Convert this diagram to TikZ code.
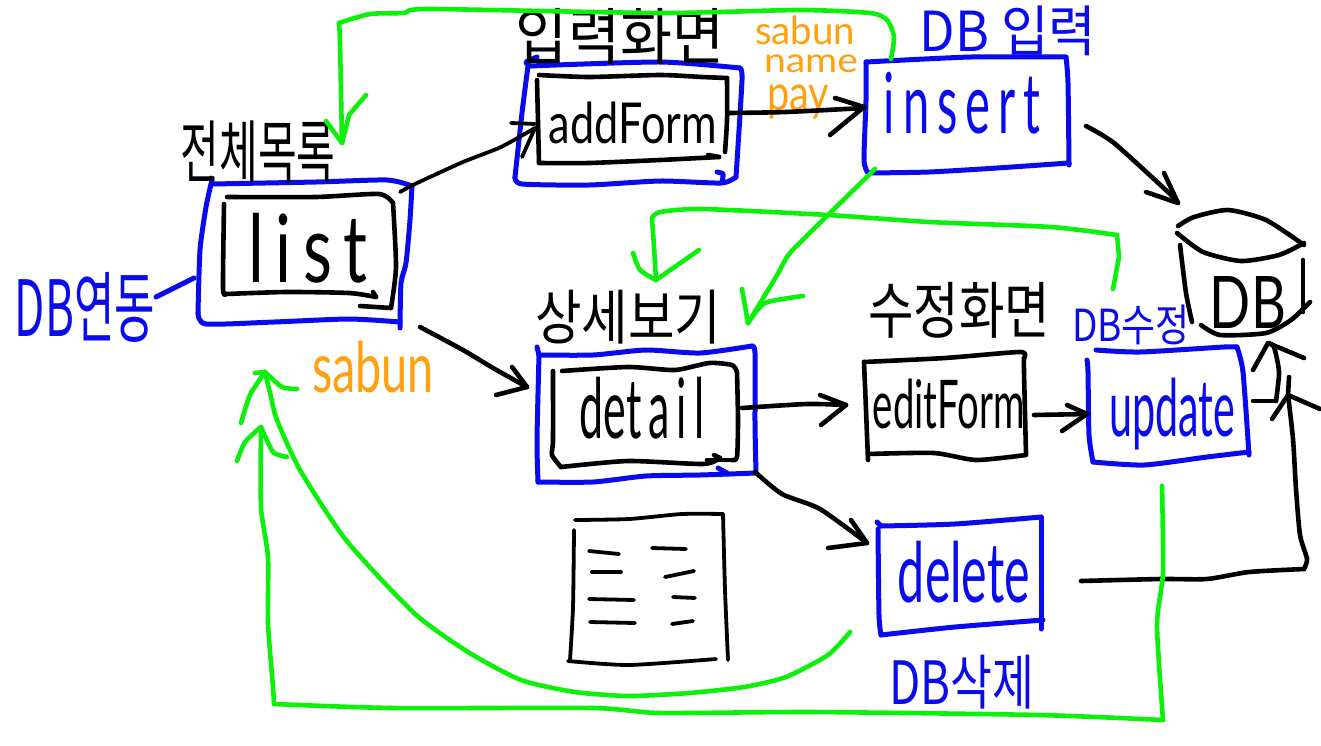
\documentclass[tikz,border=0pt]{standalone}
\usepackage{fontspec}
\usepackage{graphicx}
\setmainfont{Lato}
\newfontfamily\kr{Noto Sans CJK KR}
\definecolor{hblue}{HTML}{0A0AEE}
\definecolor{hgreen}{HTML}{0CF00C}
\definecolor{horange}{HTML}{FFA010}
\tikzset{
  pen/.style={line width=4.6pt,line cap=round,line join=round},
  inkK/.style={pen,draw=black},
  inkB/.style={pen,draw=hblue,line width=5pt},
  inkG/.style={pen,draw=hgreen},
  thinK/.style={pen,draw=black,line width=3.8pt},
  lab/.style={inner sep=0pt,outer sep=0pt},
}
\newcommand{\st}[2]{\draw[#1] plot[smooth,tension=.4] coordinates {#2};}
\newcommand{\ft}[3]{\resizebox*{#1pt}{#2pt}{#3}}
\begin{document}
\begin{tikzpicture}[x=1pt,y=-1pt]
\useasboundingbox[fill=white] (0,0) rectangle (1321,745);

% named connector ends
\coordinate (listNE) at (400,192);
\coordinate (addW) at (535,128);
\coordinate (addE) at (729,113);
\coordinate (insW) at (864,108);
\coordinate (insE) at (1086,126);
\coordinate (dbTop) at (1178,203);
\coordinate (listSE) at (420,327);
\coordinate (detW) at (527,387);
\coordinate (detE) at (742,408);
\coordinate (editW) at (846,405);
\coordinate (editE) at (1034,415);
\coordinate (updW) at (1087,414);
\coordinate (detS) at (755,472);
\coordinate (delW) at (867,543);
\coordinate (delE) at (1081,581);
\coordinate (dbIn) at (1288,395);
\coordinate (updE) at (1253,401);
\coordinate (dbBot) at (1268,343);
\coordinate (insTop) at (891,59);
\coordinate (listTop) at (342,143);
\coordinate (insSW) at (875,169);
\coordinate (detTop) at (748,323);
\coordinate (updTop) at (1113,289);
\coordinate (detTopL) at (656,280);
\coordinate (delS) at (850,632);
\coordinate (listS) at (265,372);
\coordinate (updS) at (1162,486);
\coordinate (listS2) at (261,427);
\coordinate (dbNote) at (194,278);

% ---- list box
\draw[inkB] (211,178) -- (212,184);
\st{inkB}{(212,184)(316,182)(387,180)(412,186)}
\st{inkB}{(412,186)(410,220)(406,263)(401,283)(400,328)}
\st{inkB}{(400,322)(349,319)(274,322)(206,324)(198,313)}
\st{inkB}{(198,313)(200,250)(206,207)(211,184)}
\st{inkK}{(227,197)(316,197)(379,194)(393,203)}
\st{inkK}{(393,203)(396,267)(391,308)}
\draw[inkK] (391,308) -- (360,306);
\st{inkK}{(224,204)(223,288)(226,294)}
\st{inkK}{(226,294)(286,292)(349,293)(376,297)}
\draw[inkK] (376,297) -- (373,292);
\node[lab] (list) at (308,248) {\ft{118}{70}{l\,i\,s\,t}};
\node[lab] (listTitle) at (258,152) {\ft{155}{62}{\kr 전체목록}};
\node[lab,text=hblue] (listNote) at (85,307) {\ft{140}{70}{\kr DB연동}};
\st{inkB}{(dbNote)(156,297)}

% ---- addForm box
\st{inkB}{(537,57)(526,62)(530,66)}
\st{inkB}{(530,66)(660,62)(740,68)}
\st{inkB}{(740,68)(742,80)(736,177)}
\st{inkB}{(736,177)(721,183)(660,181)(589,185)(522,184)(515,177)}
\st{inkB}{(515,177)(522,113)(528,66)}
\st{inkB}{(717,172)(723,174)(722,182)}
\st{inkK}{(539,75)(589,77)(660,75)(702,77)(727,78)}
\st{inkK}{(727,78)(727,120)(725,152)}
\st{inkK}{(537,80)(539,163)}
\st{inkK}{(539,163)(589,163)(660,160)(719,157)}
\draw[inkK] (719,157) -- (708,155);
\node[lab] (addForm) at (633,123) {\ft{168}{42}{addForm}};
\node[lab] (addTitle) at (620,36) {\ft{208}{56}{\kr 입력화면}};

% ---- insert box
\st{inkB}{(866,62)(971,57)(1066,57)}
\st{inkB}{(1066,57)(1068,83)(1069,165)}
\st{inkB}{(1069,163)(997,168)(929,172)(868,173)}
\st{inkB}{(868,173)(864,160)(866,100)(866,62)}
\node[lab,text=hblue] (insert) at (962,103) {\ft{156}{62}{i\,n\,s\,e\,r\,t}};
\node[lab,text=hblue] (insTitle) at (1008,31) {\ft{176}{50}{\kr DB 입력}};
\node[lab,text=horange] (p1) at (805,30) {\ft{100}{29}{sabun}};
\node[lab,text=horange] (p2) at (811,64) {\ft{94}{18}{name}};
\node[lab,text=horange] (p3) at (798,102) {\ft{62}{34}{pay}};

% ---- detail box
\draw[inkB] (537,347) -- (539,355);
\st{inkB}{(539,355)(593,355)(646,350)(700,353)(752,346)}
\st{inkB}{(752,346)(755,353)(755,423)(756,473)}
\st{inkB}{(756,473)(700,475)(646,476)(593,482)(538,482)}
\st{inkB}{(538,482)(537,440)(539,355)}
\draw[inkB] (718,468) -- (727,473);
\st{inkK}{(562,371)(628,367)(675,370)(709,363)(732,365)(737,372)}
\st{inkK}{(737,372)(738,420)(737,457)(732,460)}
\draw[inkK] (732,460) -- (707,460);
\st{inkK}{(553,371)(553,440)(552,455)(561,467)}
\st{inkK}{(561,467)(628,461)(703,464)(720,458)}
\draw[inkK] (720,458) -- (714,455);
\node[lab] (detail) at (642,408) {\ft{125}{62}{det\,a\,i\,l}};
\node[lab] (detTitle) at (628,317) {\ft{186}{54}{\kr 상세보기}};

% ---- editForm box
\st{inkK}{(864,362)(945,358)(1020,352)(1024,358)}
\st{inkK}{(1024,358)(1024,372)(1026,454)}
\st{inkK}{(864,362)(866,410)(868,460)}
\st{inkK}{(868,454)(934,453)(976,460)(1026,455)}
\node[lab] (editForm) at (949,404) {\ft{152}{50}{editForm}};
\node[lab] (editTitle) at (959,310) {\ft{182}{56}{\kr 수정화면}};

% ---- update box
\st{inkB}{(1096,350)(1140,352)(1224,347)(1237,347)}
\st{inkB}{(1237,347)(1243,372)(1249,455)}
\st{inkB}{(1249,452)(1207,457)(1144,465)(1093,462)}
\st{inkB}{(1093,462)(1089,435)(1088,372)(1087,360)}
\node[lab,text=hblue] (update) at (1172,414) {\ft{126}{72}{update}};
\node[lab,text=hblue] (updTitle) at (1131,325) {\ft{118}{40}{\kr DB수정}};

% ---- delete box
\draw[inkB] (877,522) -- (881,526);
\st{inkB}{(881,526)(955,524)(1041,517)}
\st{inkB}{(1041,517)(1041,572)(1041,629)}
\st{inkB}{(1043,620)(955,627)(881,635)}
\st{inkB}{(881,635)(879,615)(878,529)}
\node[lab,text=hblue] (delete) at (964,572) {\ft{132}{62}{delete}};
\node[lab,text=hblue] (delTitle) at (962,682) {\ft{145}{54}{\kr DB삭제}};

% ---- paper
\st{thinK}{(575,520)(629,519)(682,514)(723,514)}
\st{thinK}{(723,514)(725,590)(728,660)}
\st{thinK}{(574,530)(573,607)(570,660)}
\st{thinK}{(568,661)(629,665)(716,659)}
\foreach \a/\b/\c/\d in {589/551/619/554,592/572/621/572,589/599/634/600,590/622/635/623,652/548/686/549,665/577/694/571,673/597/695/598,672/624/693/621}
  \draw[thinK] (\a,\b) -- (\c,\d);

% ---- DB cylinder
\st{inkK}{(1178,226)(1194,217)(1228,210)(1266,220)(1304,245)}
\st{inkK}{(1177,233)(1203,252)(1241,261)(1279,255)(1304,243)}
\st{inkK}{(1180,245)(1186,293)(1192,322)}
\st{inkK}{(1303,260)(1303,312)}
\st{inkK}{(1310,302)(1291,320)(1266,333)(1220,335)(1201,325)}
\node[lab] (db) at (1248,302) {\ft{76}{52}{DB}};

% ---- black connectors
\st{thinK}{(listNE)(415,184)(463,162)(501,147)(addW)}
\draw[thinK] (511,123) -- (535,124);
\draw[thinK] (addW) -- (522,157);
\st{inkK}{(addE)(786,112)(insW)}
\draw[inkK] (835,98) -- (864,107) -- (830,135);
\st{inkK}{(insE)(1114,143)(1169,193)(dbTop)}
\draw[inkK] (1164,173) -- (dbTop) -- (1146,192);
\st{inkK}{(listSE)(463,350)(493,368)(detW)}
\draw[inkK] (512,367) -- (detW) -- (496,395);
\st{inkK}{(detE)(807,404)(editW)}
\draw[inkK] (820,395) -- (editW) -- (821,425);
\draw[inkK] (editE) -- (updW);
\draw[inkK] (1067,405) -- (updW) -- (1062,431);
\st{inkK}{(detS)(782,494)(820,509)(delW)}
\draw[inkK] (851,520) -- (delW) -- (828,548);
\st{inkK}{(delE)(1161,579)(1207,579)(1249,572)(1304,569)}
\st{inkK}{(1304,569)(1307,559)(1300,535)(1296,489)(1293,439)(dbIn)}
\draw[inkK] (1272,419) -- (dbIn) -- (1320,409);
\draw[inkK] (updE) -- (1276,401);
\st{inkK}{(1276,401)(1279,372)(1274,347)(dbBot)}
\draw[inkK] (1253,370) -- (dbBot) -- (1304,358);
\draw[inkK] (1289,377) -- (dbIn);

% ---- green connectors
\st{inkG}{(insTop)(894,37)(887,20)(870,13)(799,10)(660,13)(429,9)(404,13)(370,14)(339,23)}
\st{inkG}{(339,23)(340,43)(listTop)}
\draw[inkG] (366,95) -- (349,115) -- (listTop) -- (326,121);
\st{inkG}{(insSW)(828,215)(790,253)(776,277)(detTop)}
\draw[inkG] (742,289) -- (detTop);
\st{inkG}{(detTop)(765,303)(803,296)}
\draw[inkG] (updTop) -- (1119,257) -- (1117,235);
\st{inkG}{(1117,235)(1051,227)(929,222)(828,215)(702,209)(660,212)(652,218)}
\st{inkG}{(652,218)(654,247)(detTopL)}
\st{inkG}{(633,253)(640,270)(detTopL)}
\draw[inkG] (detTopL) -- (699,250);
\st{inkG}{(delS)(828,655)(786,677)(744,687)(689,693)(629,696)(575,692)(521,680)(468,652)(414,613)(346,540)(300,470)(277,420)(271,397)(listS)}
\draw[inkG] (255,373) -- (listS);
\st{inkG}{(listS)(250,395)(241,423)}
\st{inkG}{(listS)(282,387)(297,389)}
\st{inkG}{(updS)(1163,572)(1157,625)(1163,720)}
\st{inkG}{(1163,720)(1039,715)(811,712)(660,713)(593,708)(393,708)(274,704)}
\st{inkG}{(274,704)(273,687)(268,623)(268,557)(261,507)(listS2)}
\st{inkG}{(237,461)(245,442)(listS2)}
\st{inkG}{(listS2)(273,452)(287,457)}
\node[lab,text=horange] (p4) at (373,367) {\ft{122}{52}{sabun}};
\end{tikzpicture}
\end{document}
